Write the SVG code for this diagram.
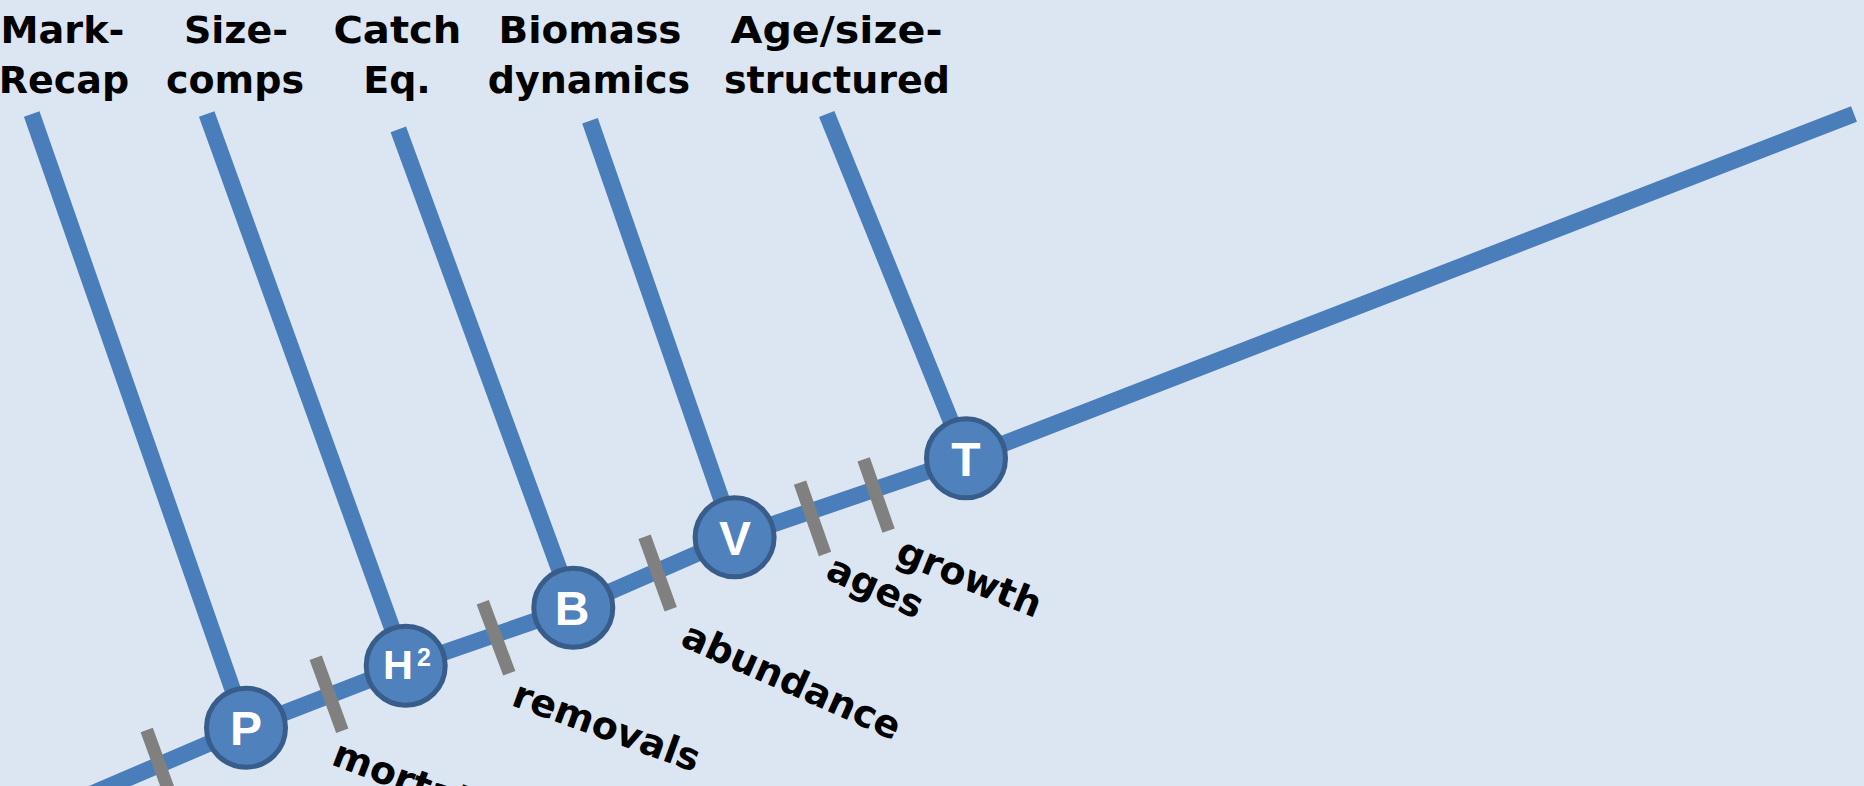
<svg xmlns="http://www.w3.org/2000/svg" width="1864" height="786" viewBox="0 0 1864 786">
  <style>
    .bg { fill: #DCE6F2; }
    .track { fill: none; stroke: #4A7EBB; stroke-width: 16.5; stroke-linecap: butt; stroke-linejoin: round; }
    .tick { stroke: #808080; stroke-width: 13; stroke-linecap: butt; }
    .node circle { fill: #4F81BD; stroke: #385D8A; stroke-width: 5; }
    .node text { font-family: "Liberation Sans", Arial, sans-serif; font-weight: bold; font-size: 48px; fill: #FFFFFF; text-anchor: middle; }
    .head { font-family: "DejaVu Sans", sans-serif; font-weight: bold; font-size: 38px; fill: #000000; text-anchor: middle; }
    .tag { font-family: "DejaVu Sans", sans-serif; font-weight: bold; font-size: 38px; fill: #000000; }
  </style>

  <rect class="bg" x="0" y="0" width="1864" height="786"/>

  <!-- column headings -->
  <g id="headings">
    <text class="head" x="62.5" y="43" textLength="124" lengthAdjust="spacingAndGlyphs">Mark-</text>
    <text class="head" x="64" y="93">Recap</text>
    <text class="head" x="236" y="43">Size-</text>
    <text class="head" x="235" y="93">comps</text>
    <text class="head" x="397.4" y="43" textLength="128" lengthAdjust="spacingAndGlyphs">Catch</text>
    <text class="head" x="397" y="93">Eq.</text>
    <text class="head" x="590" y="43" textLength="183" lengthAdjust="spacingAndGlyphs">Biomass</text>
    <text class="head" x="589" y="93">dynamics</text>
    <text class="head" x="836.5" y="43" textLength="212" lengthAdjust="spacingAndGlyphs">Age/size-</text>
    <text class="head" x="837" y="93">structured</text>
  </g>

  <!-- main track and feeder lines -->
  <g id="connectors">
    <polyline class="track" points="0,833 246,727.7 405.7,665.7 573.3,607.7 734.6,537.3 966,458.3 1854,114"/>
    <line class="track" x1="31.7" y1="114" x2="246" y2="727.7"/>
    <line class="track" x1="206.7" y1="114" x2="405.7" y2="665.7"/>
    <line class="track" x1="398.3" y1="129.3" x2="573.3" y2="607.7"/>
    <line class="track" x1="590" y1="120.7" x2="734.6" y2="537.3"/>
    <line class="track" x1="826.7" y1="114" x2="966" y2="458.3"/>
  </g>

  <!-- cross ticks on the track -->
  <g id="ticks">
    <line class="tick" x1="146.7" y1="730" x2="173.4" y2="803.4"/>
    <line class="tick" x1="315.7" y1="657.7" x2="342.3" y2="730.7"/>
    <line class="tick" x1="482.7" y1="602.3" x2="509.3" y2="673.3"/>
    <line class="tick" x1="644.6" y1="536.7" x2="670.7" y2="609.3"/>
    <line class="tick" x1="800" y1="482.7" x2="825" y2="554"/>
    <line class="tick" x1="863.6" y1="459.3" x2="888.6" y2="530.7"/>
  </g>

  <!-- stations -->
  <g id="node-P" class="node">
    <circle cx="246" cy="727.7" r="39.5"/>
    <text x="246" y="745">P</text>
  </g>
  <g id="node-H2" class="node">
    <circle cx="405.7" cy="665.7" r="39.5"/>
    <text x="383" y="679" style="font-size:41.5px;text-anchor:start">H<tspan dx="4" dy="-13" style="font-size:25px">2</tspan></text>
  </g>
  <g id="node-B" class="node">
    <circle cx="573.3" cy="607.7" r="39.5"/>
    <text x="572" y="624.5">B</text>
  </g>
  <g id="node-V" class="node">
    <circle cx="734.6" cy="537.3" r="39.5"/>
    <text x="735" y="555">V</text>
  </g>
  <g id="node-T" class="node">
    <circle cx="966" cy="458.3" r="39.5"/>
    <text x="966" y="476">T</text>
  </g>

  <!-- slanted tick labels -->
  <g id="tick-labels">
    <text class="tag" transform="translate(330,764) rotate(21)">mortality</text>
    <text class="tag" transform="translate(510,705) rotate(20)">removals</text>
    <text class="tag" transform="translate(679,645) rotate(24)">abundance</text>
    <text class="tag" transform="translate(824,578) rotate(24)">ages</text>
    <text class="tag" transform="translate(894,561) rotate(22)">growth</text>
  </g>
</svg>
